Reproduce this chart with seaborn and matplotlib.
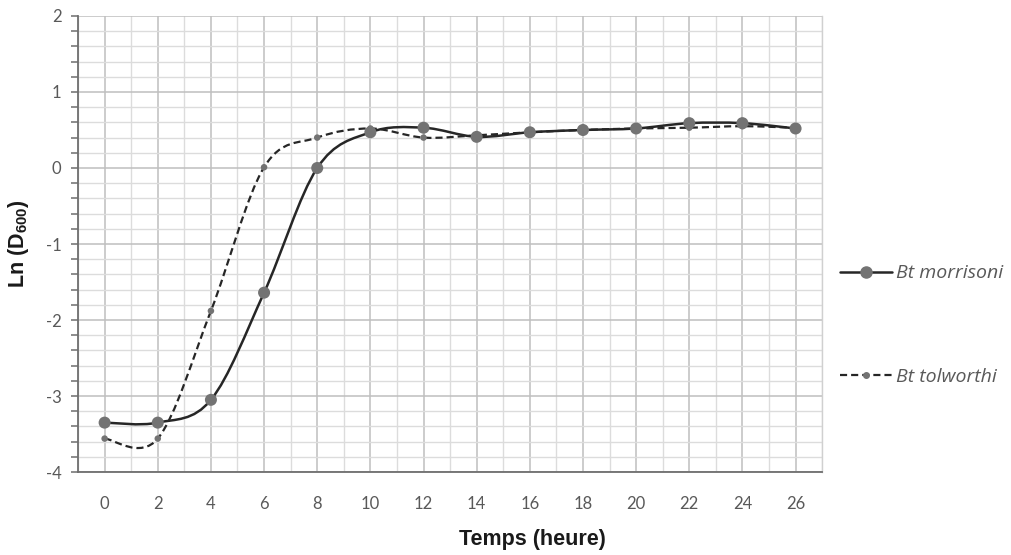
import numpy as np
import pandas as pd
import matplotlib
matplotlib.use("Agg")
import matplotlib.pyplot as plt
from matplotlib.path import Path
from matplotlib.patches import PathPatch
from matplotlib.lines import Line2D
from matplotlib.ticker import MultipleLocator, FuncFormatter
import seaborn as sns

# ---- data ----
hours = [0, 2, 4, 6, 8, 10, 12, 14, 16, 18, 20, 22, 24, 26]
morrisoni = [-3.35, -3.35, -3.05, -1.64, 0.0, 0.47, 0.53, 0.41, 0.47, 0.50, 0.52, 0.59, 0.59, 0.52]
tolworthi = [-3.56, -3.56, -1.88, 0.01, 0.40, 0.52, 0.40, 0.43, 0.47, 0.50, 0.52, 0.53, 0.55, 0.53]
series_names = ["Bt morrisoni", "Bt tolworthi"]
x_label = "Temps (heure)"
y_label = r"Ln (D$_{\mathbf{600}}$)"

sns.set_style("white")
plt.rcParams["font.family"] = ["Lato", "DejaVu Sans"]
plt.rcParams["mathtext.fontset"] = "custom"
plt.rcParams["mathtext.rm"] = "Liberation Sans"
plt.rcParams["mathtext.bf"] = "Liberation Sans:bold"

fig = plt.figure(figsize=(10.11, 5.55), dpi=100)
ax = fig.add_axes([0.0772, 0.1495, 0.736, 0.8217])

df = pd.DataFrame({"h": hours * 2,
                   "v": morrisoni + tolworthi,
                   "s": [series_names[0]] * len(hours) + [series_names[1]] * len(hours)})


def smooth_path(xs, ys):
    xs = np.asarray(xs, float)
    ys = np.asarray(ys, float)
    n = len(xs)
    verts = [(xs[0], ys[0])]
    codes = [Path.MOVETO]
    for i in range(n - 1):
        p0 = np.array([xs[max(i - 1, 0)], ys[max(i - 1, 0)]])
        p1 = np.array([xs[i], ys[i]])
        p2 = np.array([xs[i + 1], ys[i + 1]])
        p3 = np.array([xs[min(i + 2, n - 1)], ys[min(i + 2, n - 1)]])
        c1 = p1 + (p2 - p0) / 6.0
        c2 = p2 - (p3 - p1) / 6.0
        verts += [tuple(c1), tuple(c2), tuple(p2)]
        codes += [Path.CURVE4] * 3
    return Path(verts, codes)


line_col = "#262626"
mk_col = "#737373"

ax.add_patch(PathPatch(smooth_path(hours, tolworthi), fill=False, edgecolor=line_col,
                       lw=1.6, linestyle=(0, (3.2, 1.8)), zorder=3))
ax.add_patch(PathPatch(smooth_path(hours, morrisoni), fill=False, edgecolor=line_col,
                       lw=1.8, zorder=3))

sns.scatterplot(data=df[df.s == series_names[1]], x="h", y="v", ax=ax, color=mk_col,
                s=22, edgecolor="none", zorder=4, legend=False)
sns.scatterplot(data=df[df.s == series_names[0]], x="h", y="v", ax=ax, color=mk_col,
                s=75, edgecolor="none", zorder=5, legend=False)

ax.set_xlim(-1, 27)
ax.set_ylim(-4, 2)
ax.set_xticks(hours)
ax.xaxis.set_minor_locator(MultipleLocator(1))
ax.yaxis.set_major_locator(MultipleLocator(1))
ax.yaxis.set_minor_locator(MultipleLocator(0.2))
ax.yaxis.set_major_formatter(FuncFormatter(lambda v, p: f"{int(round(v))}"))

ax.grid(which="major", color="#BFBFBF", lw=1.1)
ax.grid(which="minor", color="#DCDCDC", lw=1.0)
ax.set_axisbelow(True)

ax.spines["top"].set_visible(False)
ax.spines["right"].set_color("#D0D0D0")
ax.spines["right"].set_linewidth(1.0)
for s in ["left", "bottom"]:
    ax.spines[s].set_color("#6E6E6E")
    ax.spines[s].set_linewidth(1.3)

ax.tick_params(axis="y", which="both", direction="out", left=True, color="#6E6E6E",
               length=5, width=1.1, labelsize=12, labelcolor="#595959", pad=7)
ax.tick_params(axis="x", which="both", bottom=False, labelsize=12, labelcolor="#595959", pad=14)

ax.set_xlabel(x_label, fontsize=15.5, fontweight="bold", family="Liberation Sans",
              color="#1a1a1a")
ax.xaxis.set_label_coords(0.61, -0.125)
ax.set_ylabel(y_label, fontsize=15.5, fontweight="bold", family="Liberation Sans",
              color="#1a1a1a")
ax.yaxis.set_label_coords(-0.063, 0.5)

handles = [Line2D([], [], color=line_col, lw=1.8, marker="o", markersize=8,
                  markerfacecolor=mk_col, markeredgecolor=mk_col),
           Line2D([], [], color=line_col, lw=1.6, linestyle=(0, (3.2, 1.8)), marker="o",
                  markersize=4, markerfacecolor=mk_col, markeredgecolor=mk_col)]
leg = ax.legend(handles, series_names, loc="center left", bbox_to_anchor=(1.0, 0.322),
                frameon=False, labelspacing=4.4, handlelength=2.67, handletextpad=0.25,
                prop={"family": "Open Sans", "style": "italic", "size": 14})
for t in leg.get_texts():
    t.set_color("#595959")

fig.savefig("out.png", dpi=100)
